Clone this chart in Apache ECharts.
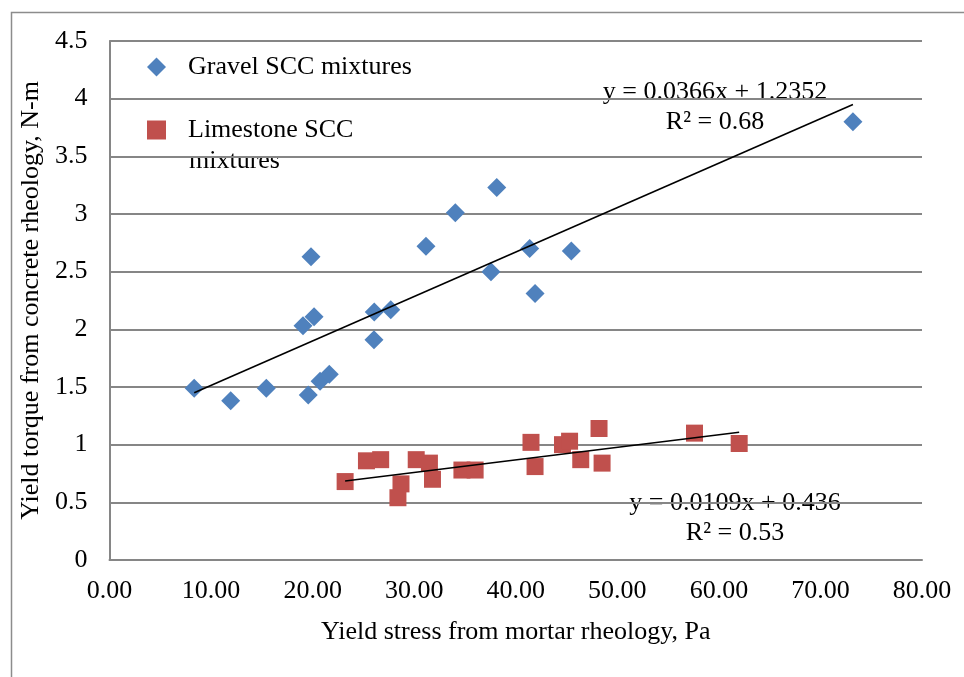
<!DOCTYPE html>
<html>
<head>
<meta charset="utf-8">
<script src="https://cdn.jsdelivr.net/npm/echarts@6/dist/echarts.min.js"></script>
<style>
  html, body { margin: 0; padding: 0; background: #fff; }
  #chart { width: 964px; height: 677px; }
</style>
</head>
<body>
<div id="chart"></div>
<script>
// gravel SCC mixtures: [mortar yield stress Pa, concrete yield torque N-m]
const gravelPoints = [
  [8.34, 1.49], [11.93, 1.38], [15.44, 1.49], [19.05, 2.03], [19.84, 2.63],
  [19.57, 1.43], [20.14, 2.11], [20.73, 1.55], [21.64, 1.61], [26.04, 1.91],
  [26.07, 2.15], [27.69, 2.17], [31.16, 2.72], [34.05, 3.01], [38.13, 3.23],
  [37.56, 2.50], [41.37, 2.70], [41.9, 2.31], [45.47, 2.68], [73.2, 3.80]
]
const limestonePoints = [
  [23.2, 0.68], [25.3, 0.86], [26.7, 0.87], [28.4, 0.54], [28.7, 0.66],
  [30.2, 0.87], [31.5, 0.84], [31.8, 0.70], [34.7, 0.78], [36.0, 0.78],
  [41.5, 1.02], [41.9, 0.81], [44.6, 1.00], [45.3, 1.03], [46.4, 0.87],
  [48.2, 1.14], [48.5, 0.84], [57.6, 1.10], [62.0, 1.01]
]
// linear trendline ends as drawn
const gravelTrend = [[8.34, 1.45], [73.2, 3.95]]
const limestoneTrend = [[23.2, 0.685], [62.0, 1.107]]

const gravelEq = "y = 0.0366x + 1.2352\nR² = 0.68"
const limestoneEq = "y = 0.0109x + 0.436\nR² = 0.53"

const font = "'Liberation Serif', 'Times New Roman', serif"
const gridGray = "#868686"

const chart = echarts.init(document.getElementById("chart"))

let options = {
  animation: false,
  textStyle: { fontFamily: font },
  grid: { left: 109.5, right: 42, top: 41, bottom: 117 },
  legend: {
    orient: "vertical",
    left: 147,
    top: 54,
    padding: 0,
    itemGap: 37,
    itemWidth: 19,
    itemHeight: 19,
    selectedMode: false,
    itemStyle: { opacity: 1 },
    textStyle: { fontFamily: font, fontSize: 26, color: "#000", padding: [0, 0, 0, 17] },
    formatter: (name) => (name === "Limestone SCC mixtures" ? "Limestone SCC" : name),
    data: [
      { name: "Gravel SCC mixtures", icon: "diamond" },
      { name: "Limestone SCC mixtures", icon: "rect" },
    ],
  },
  xAxis: {
    type: "value",
    min: 0,
    max: 80,
    interval: 10,
    name: "Yield stress from mortar rheology, Pa",
    nameLocation: "middle",
    nameGap: 59,
    nameTextStyle: { fontFamily: font, fontSize: 26, color: "#000" },
    axisLine: { lineStyle: { color: gridGray, width: 2 } },
    axisTick: { show: false },
    splitLine: { show: false },
    axisLabel: {
      fontFamily: font,
      fontSize: 26,
      color: "#000",
      margin: 18,
      formatter: (v) => v.toFixed(2),
    },
  },
  yAxis: {
    type: "value",
    min: 0,
    max: 4.5,
    interval: 0.5,
    name: "Yield torque from concrete rheology, N-m",
    nameLocation: "middle",
    nameGap: 62,
    nameTextStyle: { fontFamily: font, fontSize: 26, color: "#000" },
    axisLine: { show: true, lineStyle: { color: gridGray, width: 2 } },
    axisTick: { show: false },
    splitLine: { lineStyle: { color: gridGray, width: 2 } },
    axisLabel: { fontFamily: font, fontSize: 26, color: "#000", margin: 22 },
  },
  series: [
    {
      name: "Gravel SCC mixtures",
      type: "scatter",
      symbol: "diamond",
      symbolSize: 19,
      itemStyle: { color: "#4F81BD", opacity: 1 },
      data: gravelPoints,
      z: 3,
    },
    {
      name: "Limestone SCC mixtures",
      type: "scatter",
      symbol: "rect",
      symbolSize: 17,
      itemStyle: { color: "#C0504D", opacity: 1 },
      data: limestonePoints,
      z: 3,
    },
    {
      name: "gravel trend",
      type: "line",
      showSymbol: false,
      silent: true,
      lineStyle: { color: "#000", width: 1.6 },
      data: gravelTrend,
      z: 4,
    },
    {
      name: "limestone trend",
      type: "line",
      showSymbol: false,
      silent: true,
      lineStyle: { color: "#000", width: 1.6 },
      data: limestoneTrend,
      z: 4,
    },
  ],
  graphic: [
    {
      type: "rect",
      left: 9,
      top: 10,
      silent: true,
      shape: { width: 1200, height: 1000 },
      style: { fill: "none", stroke: "#8c8c8c", lineWidth: 1.5 },
      z: -1,
    },
    {
      type: "text",
      left: 189,
      top: 148,
      style: { text: "mixtures", font: "26px " + font, fill: "#000" },
    },
    {
      type: "text",
      x: 715,
      y: 77,
      style: { text: gravelEq, font: "26px " + font, fill: "#000", align: "center", lineHeight: 30 },
    },
    {
      type: "text",
      x: 735,
      y: 488,
      style: { text: limestoneEq, font: "26px " + font, fill: "#000", align: "center", lineHeight: 30 },
    },
  ],
}

chart.setOption(options)
window.addEventListener("resize", () => chart.resize())
</script>
</body>
</html>
